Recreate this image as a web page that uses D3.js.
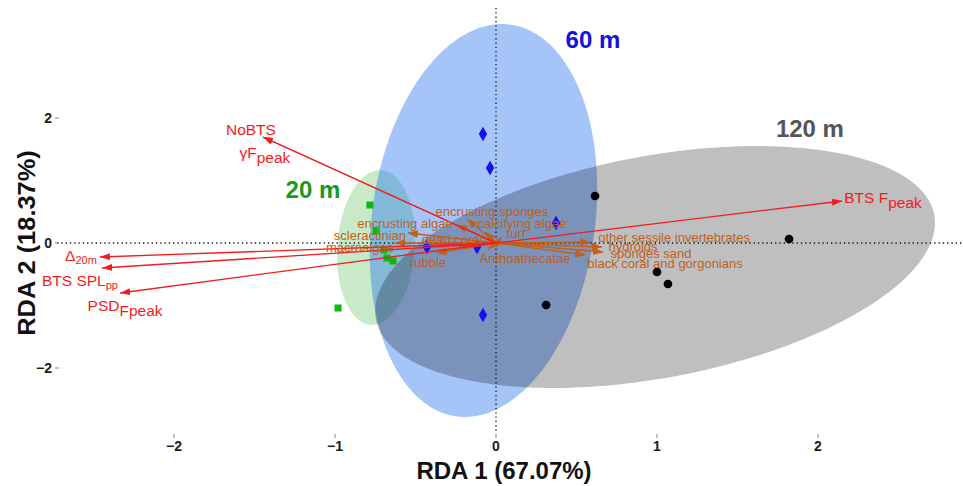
<!DOCTYPE html>
<html><head><meta charset="utf-8">
<script src="https://cdn.jsdelivr.net/npm/d3@7"></script>
<style>
body{margin:0;background:#fff}
text{font-family:"Liberation Sans",Arial,Helvetica,sans-serif}
</style>
</head><body>
<svg id="chart" width="963" height="486"></svg>
<script>
// ---------- axes ----------
const xTicks = [-2, -1, 0, 1, 2];
const yTicks = [-2, 0, 2];
const xTitle = "RDA 1 (67.07%)";
const yTitle = "RDA 2 (18.37%)";

// ---------- site scores by depth group ----------
const groups = ["20 m", "60 m", "120 m"];
const site20X = [-0.783, -0.745, -0.696, -0.677, -0.640, -0.981];
const site20Y = [0.608, 0.192, -0.112, -0.240, -0.288, -1.040];
const site60X = [-0.081, -0.037, 0.373, -0.429, -0.118, -0.081];
const site60Y = [1.744, 1.200, 0.320, -0.064, -0.064, -1.152];
const site120X = [0.615, 1.820, 1.000, 1.068, 0.311];
const site120Y = [0.752, 0.064, -0.464, -0.656, -0.992];

// ---------- group ellipses (centre and semi-axis vectors, data units) ----------
const ellCx = [-0.745, -0.078, 0.988];
const ellCy = [-0.072, 0.360, -0.384];
const ellUx = [-0.033, -0.169, 1.734];
const ellUy = [-1.238, -3.134, 0.835];
const ellVx = [0.240, 0.686, 0.127];
const ellVy = [-0.042, -0.246, -1.746];

// group label anchors
const groupLabelX = [-1.137, 0.602, 1.950];
const groupLabelY = [0.864, 3.264, 1.840];

// ---------- environmental vectors ----------
const envMain = ["NoBTS", "γF", "Δ", "BTS SPL", "PSD", "BTS F"];
const envSub  = ["", "peak", "20m", "pp", "Fpeak", "peak"];
const envX = [-1.447, -1.447, -2.460, -2.447, -2.335, 2.149];
const envY = [1.696, 1.696, -0.224, -0.400, -0.800, 0.672];
const envLabelX = [-1.522, -1.435, -2.578, -2.584, -2.304, 2.404];
const envLabelY = [1.824, 1.456, -0.192, -0.592, -0.992, 0.736];

// ---------- species vectors ----------
const spNames = ["encrusting sponges", "calcifying algae", "turf", "encrusting algae",
  "scleractinian", "dead coral", "macroalgae", "rubble", "Anthoathecatae",
  "other sessile invertebrates", "hydroids", "sponges sand", "black coral and gorgonians"];
const spX = [-0.180, -0.068, 0.037, -0.242, -0.547, -0.230, -0.627, -0.366, -0.050, 0.584, 0.658, 0.665, 0.553];
const spY = [0.384, 0.176, 0.096, 0.288, 0.160, -0.048, 0.000, -0.160, -0.096, 0.016, -0.064, -0.144, -0.192];
const spLabelX = [-0.025, 0.161, 0.124, -0.565, -0.783, -0.273, -0.845, -0.422, 0.180, 1.106, 0.851, 0.963, 1.050];
const spLabelY = [0.512, 0.320, 0.160, 0.320, 0.128, 0.064, -0.064, -0.304, -0.240, 0.096, -0.048, -0.160, -0.320];

// ---------- drawing ----------
const svg = d3.select("#chart");
const x = d3.scaleLinear().domain([-2, 2]).range([174, 818]);
const y = d3.scaleLinear().domain([-2, 2]).range([368, 118]);

const fills = [
  {fill: "rgb(40,170,40)", op: 0.25},
  {fill: "rgb(30,110,240)", op: 0.40},
  {fill: "rgb(0,0,0)", op: 0.25}
];
const ptColors = ["#12b812", "#1010f0", "#000000"];
const labelColors = ["#1a9a1a", "#1212e0", "#555555"];
const red = "#f21c1c";
const brown = "#c0601a";

const defs = svg.append("defs");
function marker(id, color, len, wid) {
  defs.append("marker").attr("id", id)
    .attr("markerUnits", "userSpaceOnUse")
    .attr("markerWidth", len).attr("markerHeight", wid)
    .attr("viewBox", `0 0 ${len} ${wid}`)
    .attr("refX", len).attr("refY", wid / 2)
    .attr("orient", "auto")
    .append("path").attr("d", `M0,0L${len},${wid / 2}L0,${wid}Z`).attr("fill", color);
}
marker("ar", red, 10, 7);
marker("ab", brown, 10, 8);

// ellipses
const line = d3.line().x(d => x(d[0])).y(d => y(d[1]));
groups.forEach((g, i) => {
  const pts = d3.range(0, 201).map(k => {
    const t = k / 200 * 2 * Math.PI;
    return [ellCx[i] + ellUx[i] * Math.cos(t) + ellVx[i] * Math.sin(t),
            ellCy[i] + ellUy[i] * Math.cos(t) + ellVy[i] * Math.sin(t)];
  });
  svg.append("path").attr("d", line(pts) + "Z")
    .attr("fill", fills[i].fill).attr("fill-opacity", fills[i].op).attr("stroke", "none");
});

// zero lines
svg.append("line").attr("x1", 57).attr("x2", 963).attr("y1", y(0)).attr("y2", y(0))
  .attr("stroke", "#111").attr("stroke-width", 1.3).attr("stroke-dasharray", "1.3 3");
svg.append("line").attr("x1", x(0)).attr("x2", x(0)).attr("y1", 8).attr("y2", 434)
  .attr("stroke", "#111").attr("stroke-width", 1.3).attr("stroke-dasharray", "1.3 3");

// axes ticks and labels
const tickG = svg.append("g");
xTicks.forEach(t => {
  tickG.append("line").attr("x1", x(t)).attr("x2", x(t)).attr("y1", 434).attr("y2", 438)
    .attr("stroke", "#888").attr("stroke-width", 1);
  tickG.append("text").attr("x", x(t)).attr("y", 446).attr("text-anchor", "middle")
    .attr("dominant-baseline", "central").attr("font-size", 14).attr("font-weight", "bold")
    .attr("fill", "#1a1a1a").text(t < 0 ? "\u2212" + Math.abs(t) : String(t));
});
yTicks.forEach(t => {
  tickG.append("line").attr("x1", 55).attr("x2", 59).attr("y1", y(t)).attr("y2", y(t))
    .attr("stroke", "#888").attr("stroke-width", 1);
  tickG.append("text").attr("x", 52).attr("y", y(t)).attr("text-anchor", "end")
    .attr("dominant-baseline", "central").attr("font-size", 14).attr("font-weight", "bold")
    .attr("fill", "#1a1a1a").text(t < 0 ? "\u2212" + Math.abs(t) : String(t));
});
svg.append("text").attr("x", 504).attr("y", 470).attr("text-anchor", "middle")
  .attr("dominant-baseline", "central").attr("font-size", 24).attr("font-weight", "bold")
  .attr("fill", "#111").text(xTitle);
svg.append("text").attr("transform", "translate(27,243) rotate(-90) scale(1.06,1)").attr("text-anchor", "middle")
  .attr("dominant-baseline", "central").attr("font-size", 24).attr("font-weight", "bold")
  .attr("fill", "#111").text(yTitle);

// points
function pts(xs, ys, type, size, color) {
  xs.forEach((v, k) => {
    svg.append("path").attr("d", d3.symbol().type(type).size(size)())
      .attr("transform", `translate(${x(v)},${y(ys[k])})`).attr("fill", color);
  });
}
pts(site20X, site20Y, d3.symbolSquare, 50, ptColors[0]);
pts(site60X, site60Y, d3.symbolDiamond, 60, ptColors[1]);
pts(site120X, site120Y, d3.symbolCircle, 60, ptColors[2]);

// species arrows
spNames.forEach((n, i) => {
  svg.append("line").attr("x1", x(0)).attr("y1", y(0)).attr("x2", x(spX[i])).attr("y2", y(spY[i]))
    .attr("stroke", brown).attr("stroke-width", 1.4).attr("marker-end", "url(#ab)");
});
// env arrows
envMain.forEach((n, i) => {
  svg.append("line").attr("x1", x(0)).attr("y1", y(0)).attr("x2", x(envX[i])).attr("y2", y(envY[i]))
    .attr("stroke", red).attr("stroke-width", 1.3).attr("marker-end", "url(#ar)");
});
// species labels
spNames.forEach((n, i) => {
  svg.append("text").attr("x", x(spLabelX[i])).attr("y", y(spLabelY[i]))
    .attr("text-anchor", "middle").attr("dominant-baseline", "central")
    .attr("font-size", 13).attr("fill", brown).text(n);
});
// env labels
envMain.forEach((n, i) => {
  const t = svg.append("text").attr("x", x(envLabelX[i])).attr("y", y(envLabelY[i]))
    .attr("text-anchor", "middle").attr("dominant-baseline", "central")
    .attr("font-size", 15.5).attr("fill", red);
  t.append("tspan").text(n);
  if (envSub[i]) {
    const small = envSub[i].indexOf("peak") < 0;
    t.append("tspan").attr("dy", 5).attr("font-size", small ? 11 : 15.5).text(envSub[i]);
  }
});
// group labels
groups.forEach((g, i) => {
  svg.append("text").attr("x", x(groupLabelX[i])).attr("y", y(groupLabelY[i]))
    .attr("text-anchor", "middle").attr("dominant-baseline", "central")
    .attr("font-size", 24).attr("font-weight", "bold").attr("fill", labelColors[i]).text(g);
});
</script>
</body></html>
